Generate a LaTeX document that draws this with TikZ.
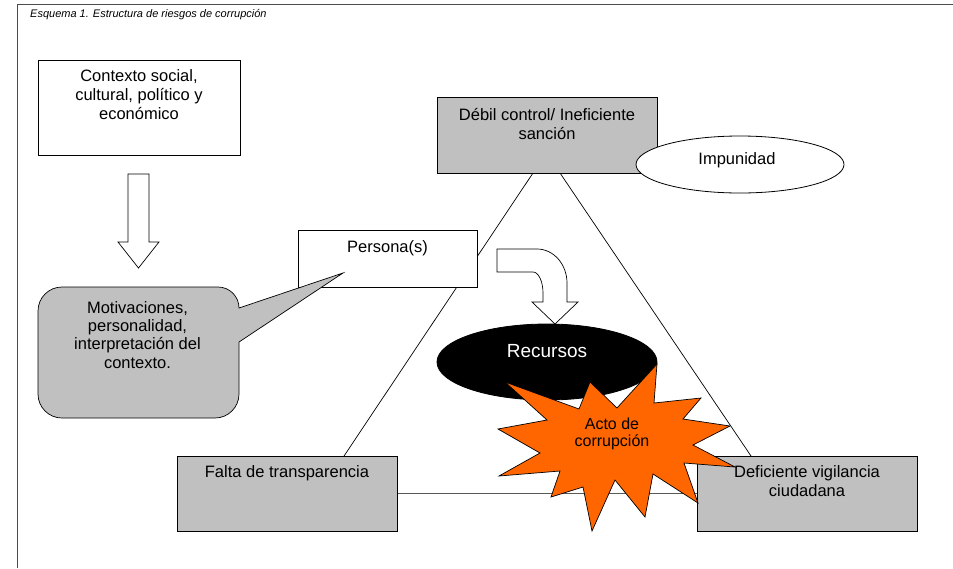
\documentclass[tikz,border=0pt]{standalone}
\usepackage{fontspec}
\setmainfont{Liberation Sans}
\usetikzlibrary{backgrounds,calc,shapes.geometric}
\definecolor{boxgray}{HTML}{C0C0C0}
\definecolor{burst}{HTML}{FF6600}
\begin{document}
\begin{tikzpicture}[x=1pt,y=-1pt,
  line/.style={draw=black,line width=0.7pt},
  wbox/.style={draw=black,line width=0.8pt,fill=white,inner sep=0pt,outer sep=0pt},
  gbox/.style={wbox,fill=boxgray},
  txt/.style={font=\fontsize{16.5}{19}\selectfont,align=center,inner sep=0pt,anchor=north,text=black},
  oval/.style={ellipse,draw=black,line width=0.8pt,inner sep=0pt,outer sep=0pt},
]
\useasboundingbox (0,0) rectangle (953,568);

% frame and title
\draw[draw=black!70,line width=1pt] (17.3,568) -- (17.3,4.5) -- (953,4.5);
\node[anchor=base west,inner sep=0pt,font=\fontsize{11}{13}\selectfont\itshape] (title) at (30,17.5) {Esquema 1. Estructura de riesgos de corrupción};

% context box
\node[wbox,minimum width=202pt,minimum height=95pt] (ctx) at (139,107.5) {};
\node[txt] (ctxt) at ([yshift=-8.2pt]ctx.north) {\strut Contexto social,\\cultural, político y\\económico};

% down arrow
\draw[line,fill=white] (128,174) -- (149,174) -- (149,242) -- (159,242) -- (138.5,268) -- (118,242) -- (128,242) -- cycle;

% boxes
\node[gbox,minimum width=220pt,minimum height=76pt] (deb) at (547,135) {};
\node[txt] (debt) at ([yshift=-10.2pt]deb.north) {\strut Débil control/ Ineficiente\\sanción};
\node[gbox,minimum width=220pt,minimum height=75pt] (falta) at (287,493.5) {};
\node[gbox,minimum width=220pt,minimum height=75pt] (defi) at (807,493.5) {};

% triangle connectors (behind)
\begin{pgfonlayer}{background}
\draw[line] ([xshift=-14pt]deb.south) -- ([xshift=57pt]falta.north);
\draw[line] ([xshift=13pt]deb.south) -- ([xshift=-56pt]defi.north);
\draw[line,draw=black!65] (falta.east) -- (defi.west);
\end{pgfonlayer}

% impunidad
\node[oval,fill=white,minimum width=208pt,minimum height=57pt] (imp) at (740,164.5) {};
\node[anchor=base,inner sep=0pt,font=\fontsize{16.5}{19}\selectfont] (impt) at (737,164.3) {Impunidad};

% persona
\node[wbox,minimum width=179pt,minimum height=57pt] (per) at (387.5,258.5) {};
\node[txt] (pert) at ([yshift=-8.7pt]per.north) {\strut Persona(s)};

% callout
\draw[line,fill=boxgray] (62,287) -- (218,287) arc[start angle=-90,end angle=0,radius=21] -- (343,273) -- (239,342) -- (239,394) arc[start angle=0,end angle=90,radius=24] -- (62,418) arc[start angle=90,end angle=180,radius=24] -- (38,311) arc[start angle=180,end angle=270,radius=24] -- cycle;
\node[txt,font=\fontsize{16.5}{18.4}\selectfont] (mot) at (137.5,300.1) {\strut Motivaciones,\\personalidad,\\interpretación del\\contexto.};

% curved arrow
\draw[line,fill=white] (497,249) -- (537,249) arc[start angle=-90,end angle=0,x radius=30,y radius=34] -- (567,302) -- (578,302) -- (555,324) -- (532,302) -- (543,302) -- (543,293) arc[start angle=0,end angle=-90,x radius=10,y radius=21] -- (497,272) -- cycle;

% recursos
\node[oval,fill=black,minimum width=220pt,minimum height=76pt] (rec) at (547,362) {};
\node[anchor=base,inner sep=0pt,font=\fontsize{19}{22}\selectfont,text=white] (rect) at (547,357) {Recursos};

% starburst
\draw[line,fill=burst] (505,382) -- (579,409) -- (590,382) -- (617,408) -- (657,364) -- (654,403) -- (701,398) -- (683,419) -- (730,426) -- (693,445) -- (735,467) -- (684,463) -- (698,503) -- (653,474) -- (645,517) -- (615,480) -- (592,531) -- (583,487) -- (551,497) -- (560,471) -- (499,476) -- (540,453) -- (498,429) -- (547,420) -- cycle;
\node[txt,font=\fontsize{16}{17.7}\selectfont] (acto) at (612,416.6) {\strut Acto de\\corrupción};

% texts on grey boxes
\node[txt] (faltat) at ([yshift=-8pt]falta.north) {\strut Falta de transparencia};
\node[txt] (defit) at ([yshift=-8pt]defi.north) {\strut Deficiente vigilancia\\ciudadana};
\end{tikzpicture}
\end{document}
